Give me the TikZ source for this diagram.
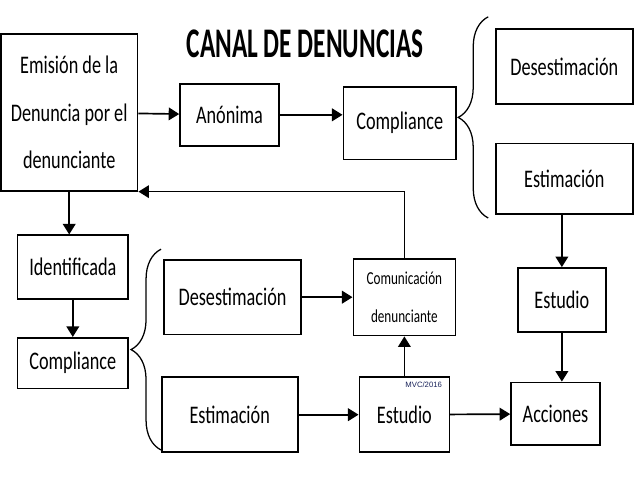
\documentclass[tikz,border=0pt]{standalone}
\usepackage{fontspec}
\usepackage{tikz}
\usepackage{xcolor}
\usetikzlibrary{arrows.meta,positioning,calc,decorations.pathreplacing}

\newfontfamily\boxfont[FakeStretch=0.72]{Carlito}
\newfontfamily\ttlfont[FakeStretch=0.6]{Carlito}
\newfontfamily\tagfont{Liberation Sans}
\definecolor{tagblue}{RGB}{25,35,90}

\begin{document}
\begin{tikzpicture}[
  font={\boxfont\fontsize{18}{34}\selectfont},
  box/.style={draw, line width=1.2pt, align=center, inner sep=2pt},
  arr/.style={-{Triangle[length=7.5pt, width=9pt]}, line width=1.2pt},
  brc/.style={decorate, decoration={brace, amplitude=0.75cm}, line width=0.9pt}
]
\useasboundingbox (0,0) rectangle (16,-12);

\node[font={\ttlfont\bfseries\fontsize{30}{34}\selectfont}] (ttl) at (7.63,-1.1) {CANAL DE DENUNCIAS};

% upper branch: anonymous
\node[box, minimum width=3.42cm, minimum height=3.92cm] (emi) at (1.73,-2.81) {Emisi\'on de la\\Denuncia por el\\denunciante};
\node[box, minimum width=2.47cm, minimum height=1.55cm, right=1.02cm of emi, yshift=-0.06cm] (ano) {An\'onima};
\node[box, minimum width=2.82cm, minimum height=1.82cm, right=1.57cm of ano, yshift=-0.21cm] (compa) {Compliance};
\node[box, minimum width=3.42cm, minimum height=1.87cm, right=0.95cm of compa, yshift=1.42cm] (desa) {Desestimaci\'on};
\node[box, minimum width=3.42cm, minimum height=1.77cm, below=0.95cm of desa] (esta) {Estimaci\'on};
\node[box, minimum width=2.2cm, minimum height=1.6cm, below=1.3cm of esta, xshift=-0.06cm] (estua) {Estudio};
\node[box, minimum width=2.22cm, minimum height=1.57cm, below=1.22cm of estua, xshift=-0.16cm] (acc) {Acciones};

% lower branch: identified
\node[box, minimum width=2.25cm, minimum height=1.87cm, left=1.5cm of acc, yshift=-0.02cm] (estub) {Estudio};
\node[box, minimum width=2.55cm, minimum height=1.92cm, above=1cm of estub,
  font={\boxfont\fontsize{13}{27}\selectfont}] (com) {Comunicaci\'on\\denunciante};
\node[box, minimum width=3.42cm, minimum height=1.87cm, left=1.27cm of com] (desb) {Desestimaci\'on};
\node[box, minimum width=3.4cm, minimum height=1.87cm, left=1.5cm of estub] (estb) {Estimaci\'on};
\node[box, minimum width=2.77cm, minimum height=1.6cm, below=1.07cm of emi, xshift=0.09cm] (ident) {Identificada};
\node[box, minimum width=2.77cm, minimum height=1.27cm, below=0.92cm of ident] (compb) {Compliance};
\node[font={\tagfont\fontsize{5.5}{6}\selectfont}, text=tagblue, inner sep=0pt,
  below left=0.14cm and 0.2cm of estub.north east] (tag) {MVC/2016};

\draw[arr] (emi) -- (ano);
\draw[arr] (ano.east) -- (ano.east -| compa.west);
\draw[brc] ($(compa.east)+(0.78,-2.37)$) -- ($(compa.east)+(0.78,2.66)$);
\draw[arr] (esta.south -| estua.north) -- (estua.north);
\draw[arr] (estua.south) -- (estua.south |- acc.north);

\draw[arr] (emi.south) -- (emi.south |- ident.north);
\draw[arr] (ident) -- (compb);
\draw[brc] ($(compb.east)+(0.8,-2.17)$) -- ($(compb.east)+(0.8,2.85)$);
\draw[arr] (desb) -- (desb.east -| com.west);
\draw[arr] (estb) -- (estub);
\draw[arr] (estub) -- (acc);
\draw[arr] (estub.north -| com.south) -- (com.south);
\draw[arr] (com.north) |- (emi.south east);
\end{tikzpicture}
\end{document}
